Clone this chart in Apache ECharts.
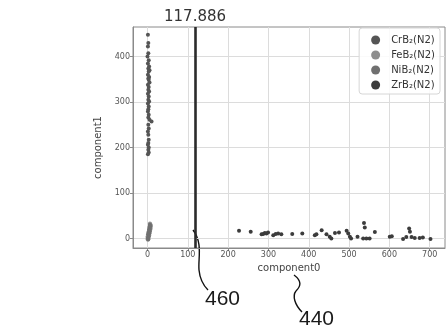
<!DOCTYPE html>
<html>
<head>
<meta charset="utf-8">
<script src="https://cdn.jsdelivr.net/npm/echarts@6/dist/echarts.min.js"></script>
<style>
  html, body { margin: 0; padding: 0; background: #fff; }
  #chart { width: 446px; height: 332px; }
</style>
</head>
<body>
<div id="chart"></div>
<script>
// Series names
const seriesNames = ['CrB\u2082(N2)', 'FeB\u2082(N2)', 'NiB\u2082(N2)', 'ZrB\u2082(N2)'];

// CrB2: tall column near component0 = 0
const crbPoints = [
  [1, 448], [2, 430], [1, 422], [2, 407], [0, 400], [3, 392], [1, 385], [4, 378],
  [2, 374], [5, 370], [3, 367], [1, 360], [4, 355], [2, 352], [3, 349], [5, 343],
  [1, 338], [3, 333], [2, 327], [4, 323], [1, 318], [3, 312], [2, 305], [4, 301],
  [1, 297], [3, 290], [2, 284], [1, 279], [3, 272], [2, 266], [5, 261], [10, 257],
  [2, 250], [3, 242], [1, 235], [2, 228], [3, 217], [2, 210], [1, 206], [3, 200],
  [2, 195], [3, 189], [1, 185]
];

// FeB2: compact cluster near the origin
const febPoints = [
  [1, -3], [0, -1], [2, 0], [1, 2], [3, 3], [0, 4], [2, 6], [4, 7], [1, 8],
  [3, 10], [5, 11], [2, 12], [4, 14], [6, 15], [3, 16], [5, 18], [7, 19],
  [4, 20], [6, 22], [8, 23], [5, 24], [7, 26], [6, 28], [8, 29], [7, 31], [6, 33]
];

// NiB2: overlapping the FeB2 cluster
const nibPoints = [
  [2, -2], [1, 1], [3, 5], [2, 9], [4, 11], [3, 13], [5, 16], [4, 19],
  [6, 21], [5, 25], [7, 27], [6, 30]
];

// ZrB2: spread along component0 with low component1
const zrbPoints = [
  [227, 17], [256, 15], [283, 9], [287, 10], [291, 12], [295, 11], [299, 13],
  [312, 7], [318, 10], [324, 11], [332, 9], [359, 10], [384, 11], [415, 7],
  [419, 9], [432, 18], [444, 9], [452, 4], [456, 0], [465, 12], [475, 13],
  [494, 17], [498, 11], [502, 4], [505, 0], [521, 4], [535, 0], [537, 34],
  [539, 24], [543, 0], [551, 0], [564, 14], [601, 4], [606, 5], [634, -1],
  [642, 3], [649, 22], [651, 15], [655, 3], [663, 1], [675, 1], [683, 2], [702, -1]
];

// Decision threshold drawn as a vertical marker
const thresholdX = 117.886;

// Axis extents and tick values
const xRange = [-36, 738];
const yRange = [-21, 465];
const xTicks = [0, 100, 200, 300, 400, 500, 600, 700];
const yTicks = [0, 100, 200, 300, 400];

const seriesColors = ['#555555', '#8e8e8e', '#707070', '#3c3c3c'];
const pointSets = [crbPoints, febPoints, nibPoints, zrbPoints];

const chart = echarts.init(document.getElementById('chart'), null, { renderer: 'canvas' });

const series = pointSets.map((pts, i) => ({
  name: seriesNames[i],
  type: 'scatter',
  data: pts,
  symbolSize: 4,
  itemStyle: { color: seriesColors[i], opacity: 1 },
  z: 3
}));

series[0].markLine = {
  silent: true,
  symbol: 'none',
  precision: 3,
  data: [{ xAxis: thresholdX }],
  lineStyle: { color: '#2b2b2b', width: 2.6, type: 'solid' },
  label: {
    show: true,
    position: 'end',
    distance: 2,
    formatter: p => String(p.value),
    fontFamily: 'DejaVu Sans',
    fontSize: 15,
    color: '#333'
  },
  animation: false
};

const axisLabelStyle = {
  fontFamily: 'DejaVu Sans',
  fontSize: 8,
  color: '#555',
  margin: 3
};

const calloutStroke = { fill: null, stroke: '#111', lineWidth: 1.4 };

const option = {
  animation: false,
  backgroundColor: '#fff',
  grid: {
    left: 133, right: 1, top: 27, bottom: 84,
    show: true, borderColor: '#8a8a8a', borderWidth: 1
  },
  legend: {
    data: seriesNames,
    orient: 'vertical',
    right: 6,
    top: 28,
    icon: 'circle',
    itemWidth: 9,
    itemHeight: 9,
    itemGap: 5,
    padding: [7, 5, 4, 12],
    borderColor: '#d6d6d6',
    borderWidth: 1,
    borderRadius: 3,
    backgroundColor: 'rgba(255,255,255,0.85)',
    textStyle: { fontFamily: 'DejaVu Sans', fontSize: 10, color: '#333', lineHeight: 10, padding: [0, 0, 0, 6] }
  },
  xAxis: {
    type: 'value',
    min: xRange[0],
    max: xRange[1],
    name: 'component0',
    nameLocation: 'middle',
    nameGap: 14,
    nameTextStyle: { fontFamily: 'DejaVu Sans', fontSize: 10, color: '#444' },
    axisLine: { show: true, onZero: false, lineStyle: { color: '#8a8a8a' } },
    axisTick: { show: true, length: 3, customValues: xTicks, lineStyle: { color: '#8a8a8a' } },
    axisLabel: Object.assign({ customValues: xTicks }, axisLabelStyle),
    splitLine: { show: true, lineStyle: { color: '#dcdcdc', width: 1 } }
  },
  yAxis: {
    type: 'value',
    min: yRange[0],
    max: yRange[1],
    name: 'component1',
    nameLocation: 'middle',
    nameGap: 25,
    nameTextStyle: { fontFamily: 'DejaVu Sans', fontSize: 10, color: '#444', padding: [0, 20, 0, 0] },
    axisLine: { show: true, onZero: false, lineStyle: { color: '#8a8a8a' } },
    axisTick: { show: true, length: 3, customValues: yTicks, lineStyle: { color: '#8a8a8a' } },
    axisLabel: Object.assign({ customValues: yTicks }, axisLabelStyle),
    splitLine: { show: true, lineStyle: { color: '#dcdcdc', width: 1 } }
  },
  series: series,
  graphic: [
    // Callout 460: threshold line
    {
      type: 'bezierCurve',
      shape: { x1: 193, y1: 230, cpx1: 203, cpy1: 243, cpx2: 198, cpy2: 258, x2: 199, y2: 270 },
      style: calloutStroke
    },
    {
      type: 'bezierCurve',
      shape: { x1: 199, y1: 270, cpx1: 200, cpy1: 280, cpx2: 203, cpy2: 285, x2: 208, y2: 290 },
      style: calloutStroke
    },
    {
      type: 'text',
      left: 205, top: 289,
      style: { text: '460', fontFamily: 'Liberation Sans', fontSize: 21, fill: '#1a1a1a' }
    },
    // Callout 440: horizontal axis
    {
      type: 'bezierCurve',
      shape: { x1: 294, y1: 275, cpx1: 302, cpy1: 281, cpx2: 301, cpy2: 286, x2: 296, y2: 291 },
      style: calloutStroke
    },
    {
      type: 'bezierCurve',
      shape: { x1: 296, y1: 291, cpx1: 292, cpy1: 296, cpx2: 295, cpy2: 305, x2: 302, y2: 312 },
      style: calloutStroke
    },
    {
      type: 'text',
      left: 299, top: 309,
      style: { text: '440', fontFamily: 'Liberation Sans', fontSize: 21, fill: '#1a1a1a' }
    }
  ]
};

chart.setOption(option);
</script>
</body>
</html>
